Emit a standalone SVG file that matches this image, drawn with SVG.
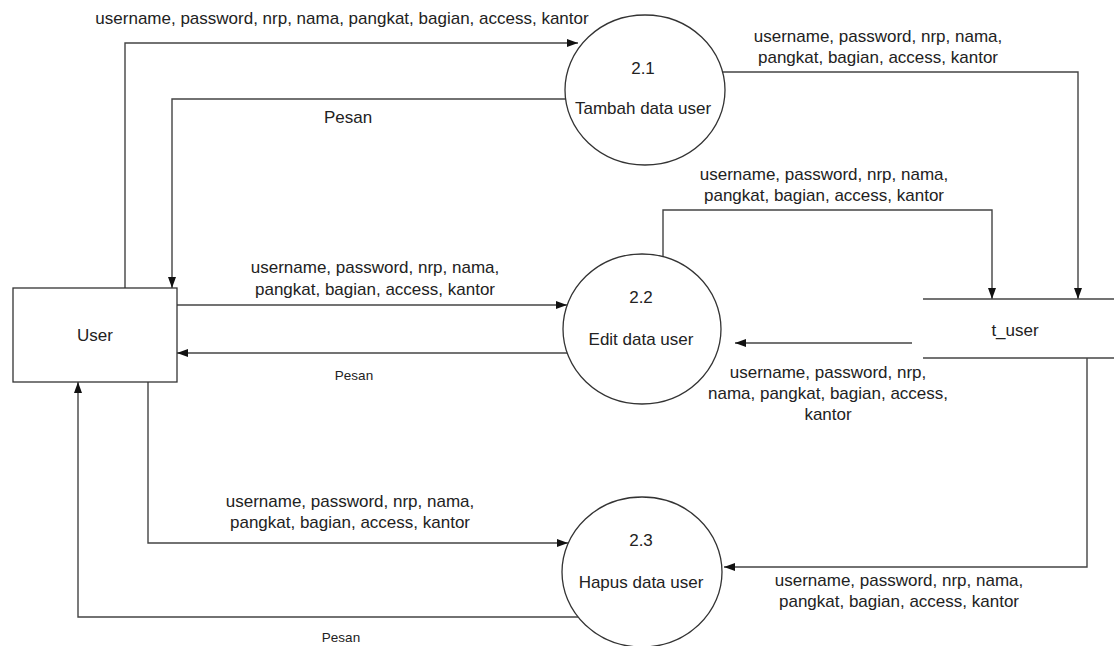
<svg xmlns="http://www.w3.org/2000/svg" width="1114" height="646" viewBox="0 0 1114 646">
<defs>
<marker id="arr" markerUnits="userSpaceOnUse" markerWidth="11" markerHeight="8" refX="11" refY="4" orient="auto">
<path d="M0,0 L11,4 L0,8 z" fill="#111"/>
</marker>
<style>
text{font-family:"Liberation Sans",Arial,sans-serif;font-size:17px;fill:#222;text-anchor:middle}
.sm{font-size:13.5px}
.shape{fill:#fff;stroke:#333;stroke-width:1.3}
.flow{fill:none;stroke:#444;stroke-width:1.4;marker-end:url(#arr)}
.plain{fill:none;stroke:#444;stroke-width:1.4}
</style>
</defs>
<rect width="1114" height="646" fill="#fff"/>
<g id="connectors">
<polyline class="flow" points="125,288 125,43 578,43"/>
<polyline class="flow" points="566,99 172,99 172,288"/>
<polyline class="flow" points="723,72 1078,72 1078,299"/>
<polyline class="flow" points="663,257 663,210 992,210 992,299"/>
<polyline class="flow" points="177,305 567,305"/>
<polyline class="flow" points="567,353 177,353"/>
<polyline class="flow" points="912,343 735,343"/>
<polyline class="flow" points="1087,358 1087,567 724,567"/>
<polyline class="flow" points="148,382 148,543 568,543"/>
<polyline class="flow" points="578,617 78,617 78,382"/>
<text x="342" y="24">username, password, nrp, nama, pangkat, bagian, access, kantor</text>
<text x="348" y="123">Pesan</text>
<text x="878" y="42">username, password, nrp, nama,</text>
<text x="878" y="63">pangkat, bagian, access, kantor</text>
<text x="824" y="180">username, password, nrp, nama,</text>
<text x="824" y="201">pangkat, bagian, access, kantor</text>
<text x="375" y="273">username, password, nrp, nama,</text>
<text x="375" y="295">pangkat, bagian, access, kantor</text>
<text class="sm" x="354" y="380">Pesan</text>
<text x="828" y="378">username, password, nrp,</text>
<text x="828" y="399">nama, pangkat, bagian, access,</text>
<text x="828" y="420">kantor</text>
<text x="350" y="507">username, password, nrp, nama,</text>
<text x="350" y="528">pangkat, bagian, access, kantor</text>
<text x="899" y="586">username, password, nrp, nama,</text>
<text x="899" y="607">pangkat, bagian, access, kantor</text>
<text class="sm" x="341" y="642">Pesan</text>
</g>
<g id="user">
<rect class="shape" x="13" y="288" width="164" height="94"/>
<text x="95" y="341">User</text>
</g>
<g id="p21">
<ellipse class="shape" cx="645" cy="90" rx="80" ry="75"/>
<text x="643" y="74">2.1</text>
<text x="643" y="114">Tambah data user</text>
</g>
<g id="p22">
<ellipse class="shape" cx="642" cy="329" rx="79" ry="75"/>
<text x="641" y="303">2.2</text>
<text x="641" y="345">Edit data user</text>
</g>
<g id="p23">
<ellipse class="shape" cx="642" cy="572" rx="80" ry="75"/>
<text x="641" y="546">2.3</text>
<text x="641" y="588">Hapus data user</text>
</g>
<g id="t_user">
<line class="plain" x1="923" y1="299" x2="1114" y2="299"/>
<line class="plain" x1="923" y1="358" x2="1114" y2="358"/>
<text x="1015" y="336">t_user</text>
</g>
</svg>
